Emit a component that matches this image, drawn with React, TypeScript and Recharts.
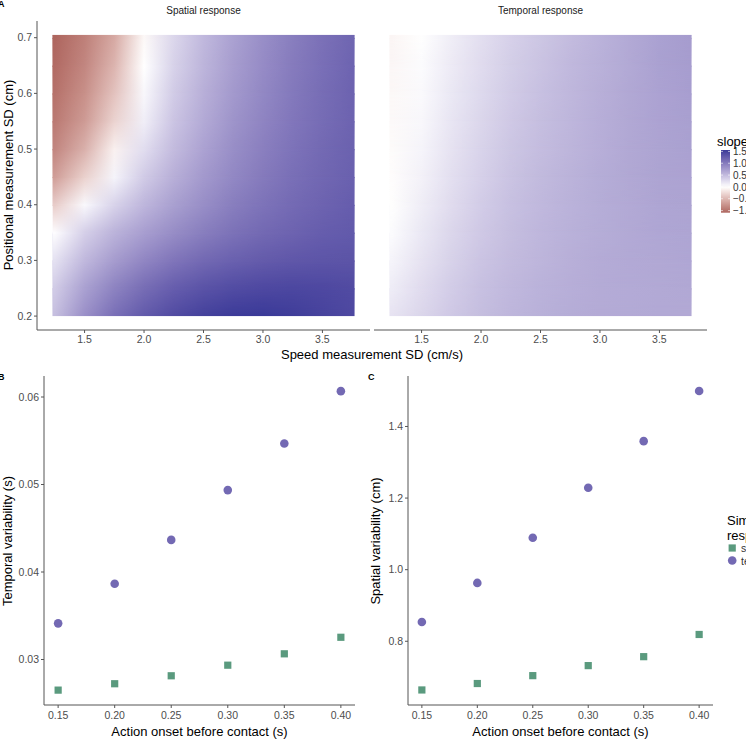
import React from 'react';
import { ComposedChart, ScatterChart, Scatter, XAxis, YAxis, ReferenceArea } from 'recharts';

// ---------- Panel A data (slope heatmaps) ----------
const SPEED_SD = [1.25, 1.5, 1.75, 2.0, 2.25, 2.5, 2.75, 3.0, 3.25, 3.5, 3.75];
const POS_SD = [0.2, 0.25, 0.3, 0.35, 0.4, 0.45, 0.5, 0.55, 0.6, 0.65, 0.7];
const SPEED_EXTENT = [1.23, 3.77];
const POS_EXTENT = [0.2, 0.705];
const SPEED_TICKS = [1.5, 2.0, 2.5, 3.0, 3.5];
const POS_TICKS = [0.2, 0.3, 0.4, 0.5, 0.6, 0.7];

// rows follow POS_SD (bottom to top), columns follow SPEED_SD
const SPATIAL_SLOPE = [
  [0.48, 0.84, 1.1, 1.28, 1.41, 1.5, 1.55, 1.56, 1.53, 1.48, 1.43],
  [0.38, 0.7, 0.94, 1.12, 1.25, 1.34, 1.4, 1.43, 1.44, 1.43, 1.41],
  [0.22, 0.52, 0.74, 0.91, 1.05, 1.15, 1.22, 1.27, 1.3, 1.32, 1.33],
  [0.02, 0.35, 0.56, 0.72, 0.86, 0.98, 1.08, 1.15, 1.2, 1.25, 1.28],
  [-0.35, 0.05, 0.32, 0.54, 0.71, 0.85, 0.98, 1.07, 1.14, 1.2, 1.25],
  [-0.68, -0.32, 0.08, 0.38, 0.59, 0.76, 0.9, 1.01, 1.1, 1.17, 1.22],
  [-0.85, -0.55, -0.1, 0.25, 0.5, 0.69, 0.85, 0.97, 1.07, 1.15, 1.21],
  [-0.94, -0.7, -0.3, 0.12, 0.43, 0.63, 0.8, 0.93, 1.04, 1.13, 1.2],
  [-1.0, -0.78, -0.42, 0.06, 0.38, 0.59, 0.76, 0.9, 1.02, 1.12, 1.2],
  [-1.05, -0.85, -0.52, 0.0, 0.33, 0.55, 0.73, 0.87, 1.0, 1.1, 1.19],
  [-1.09, -0.9, -0.6, -0.05, 0.3, 0.52, 0.7, 0.85, 0.98, 1.09, 1.18],
];

const TEMPORAL_SLOPE = [
  [0.2, 0.3, 0.4, 0.48, 0.54, 0.58, 0.61, 0.62, 0.63, 0.64, 0.64],
  [0.14, 0.26, 0.37, 0.46, 0.52, 0.57, 0.6, 0.62, 0.63, 0.64, 0.65],
  [0.08, 0.21, 0.33, 0.43, 0.5, 0.55, 0.59, 0.62, 0.64, 0.65, 0.66],
  [0.03, 0.17, 0.3, 0.4, 0.48, 0.54, 0.58, 0.61, 0.64, 0.66, 0.67],
  [-0.01, 0.13, 0.26, 0.37, 0.46, 0.52, 0.57, 0.61, 0.64, 0.67, 0.68],
  [-0.02, 0.1, 0.23, 0.34, 0.44, 0.51, 0.56, 0.61, 0.65, 0.68, 0.69],
  [-0.03, 0.08, 0.21, 0.32, 0.42, 0.49, 0.55, 0.6, 0.65, 0.68, 0.7],
  [-0.04, 0.06, 0.19, 0.3, 0.4, 0.48, 0.54, 0.6, 0.65, 0.69, 0.71],
  [-0.05, 0.04, 0.17, 0.28, 0.38, 0.46, 0.53, 0.59, 0.65, 0.69, 0.72],
  [-0.06, 0.03, 0.15, 0.26, 0.36, 0.44, 0.52, 0.58, 0.64, 0.7, 0.73],
  [-0.07, 0.01, 0.13, 0.24, 0.34, 0.42, 0.5, 0.57, 0.64, 0.7, 0.74],
];

const SLOPE_RANGE = [-1.09, 1.56];
const SLOPE_LEGEND_TICKS = [1.5, 1.0, 0.5, 0.0, -0.5, -1.0];
const SLOPE_LEGEND_LABELS = ['1.5', '1.0', '0.5', '0.0', '\u22120.5', '\u22121.0'];

// ---------- Panels B and C data ----------
const ONSET = [0.15, 0.2, 0.25, 0.3, 0.35, 0.4];
const TEMPORAL_VAR_SPATIAL = [0.0265, 0.02723, 0.02814, 0.02935, 0.03065, 0.03254];
const TEMPORAL_VAR_TEMPORAL = [0.03413, 0.03866, 0.04367, 0.04936, 0.05468, 0.06067];
const SPATIAL_VAR_SPATIAL = [0.664, 0.682, 0.704, 0.732, 0.757, 0.819];
const SPATIAL_VAR_TEMPORAL = [0.854, 0.963, 1.089, 1.229, 1.359, 1.499];
const TEMPORAL_VAR_TICKS = [0.03, 0.04, 0.05, 0.06];
const SPATIAL_VAR_TICKS = [0.8, 1.0, 1.2, 1.4];

// ---------- styling ----------
const FONT = '"Liberation Sans", Arial, Helvetica, sans-serif';
const AXIS = '#555555';
const TICK_TEXT = '#4d4d4d';
const GREEN = '#5a9a7e';
const PURPLE = '#7369b3';
const LOW = '#832424';
const HIGH = '#3A3A98';

// Lab colour interpolation (like ggplot's gradient2)
const srgbToLin = (c: number) => {
  const v = c / 255;
  return v <= 0.04045 ? v / 12.92 : Math.pow((v + 0.055) / 1.055, 2.4);
};
const linToSrgb = (c: number) => {
  const v = c <= 0.0031308 ? 12.92 * c : 1.055 * Math.pow(Math.max(c, 0), 1 / 2.4) - 0.055;
  return Math.round(Math.max(0, Math.min(1, v)) * 255);
};
const hexToLab = (h: string) => {
  const r = srgbToLin(parseInt(h.slice(1, 3), 16));
  const g = srgbToLin(parseInt(h.slice(3, 5), 16));
  const b = srgbToLin(parseInt(h.slice(5, 7), 16));
  const X = (0.4124 * r + 0.3576 * g + 0.1805 * b) / 0.95047;
  const Y = 0.2126 * r + 0.7152 * g + 0.0722 * b;
  const Z = (0.0193 * r + 0.1192 * g + 0.9505 * b) / 1.08883;
  const f = (t: number) => (t > 0.008856 ? Math.cbrt(t) : 7.787 * t + 16 / 116);
  const fx = f(X), fy = f(Y), fz = f(Z);
  return [116 * fy - 16, 500 * (fx - fy), 200 * (fy - fz)];
};
const labToHex = (lab: number[]) => {
  const [L, a, b] = lab;
  const fy = (L + 16) / 116, fx = fy + a / 500, fz = fy - b / 200;
  const finv = (t: number) => (t * t * t > 0.008856 ? t * t * t : (t - 16 / 116) / 7.787);
  const X = finv(fx) * 0.95047, Y = finv(fy), Z = finv(fz) * 1.08883;
  const R = 3.2406 * X - 1.5372 * Y - 0.4986 * Z;
  const G = -0.9689 * X + 1.8758 * Y + 0.0415 * Z;
  const B = 0.0557 * X - 0.204 * Y + 1.057 * Z;
  return '#' + [R, G, B].map((c) => linToSrgb(c).toString(16).padStart(2, '0')).join('');
};
const WHITE_LAB = hexToLab('#ffffff');
const LOW_LAB = hexToLab(LOW);
const HIGH_LAB = hexToLab(HIGH);
const SLOPE_MAXABS = Math.max(Math.abs(SLOPE_RANGE[0]), Math.abs(SLOPE_RANGE[1]));
const slopeColor = (v: number) => {
  const t = Math.max(-1, Math.min(1, v / SLOPE_MAXABS));
  const target = t >= 0 ? HIGH_LAB : LOW_LAB;
  const k = Math.abs(t);
  return labToHex(WHITE_LAB.map((w, i) => w + (target[i] - w) * k));
};

// Row stops along the speed axis (relative to the raster's x extent)
const rowStops = (row: number[]) =>
  row.map((v, j) => (
    <stop
      key={j}
      offset={(SPEED_SD[j] - SPEED_EXTENT[0]) / (SPEED_EXTENT[1] - SPEED_EXTENT[0])}
      stopColor={slopeColor(v)}
    />
  ));

// Horizontal bands between consecutive rows; each band blends its lower and upper row
const bandsFor = () => {
  const bands: { y1: number; y2: number; lo: number; hi: number }[] = [];
  for (let i = 0; i < POS_SD.length; i++) {
    const last = i === POS_SD.length - 1;
    const upper = last ? POS_EXTENT[1] : POS_SD[i + 1];
    if (upper > POS_SD[i]) bands.push({ y1: POS_SD[i], y2: upper, lo: i, hi: last ? i : i + 1 });
  }
  return bands;
};
const BANDS = bandsFor();

const makeBandShape = (grid: number[][], band: { lo: number; hi: number }, id: string, first: boolean) => (p: any) => {
  const { x, y, width, height } = p;
  const overlap = first ? 0 : 1.2;
  return (
    <g>
      <defs>
        <linearGradient id={`${id}-lo`} x1="0" y1="0" x2="1" y2="0">
          {rowStops(grid[band.lo])}
        </linearGradient>
        <linearGradient id={`${id}-hi`} x1="0" y1="0" x2="1" y2="0">
          {rowStops(grid[band.hi])}
        </linearGradient>
        <linearGradient id={`${id}-fade`} x1="0" y1="0" x2="0" y2="1">
          <stop offset="0" stopColor="#fff" stopOpacity={1} />
          <stop offset="1" stopColor="#fff" stopOpacity={0} />
        </linearGradient>
        <mask id={`${id}-mask`} maskContentUnits="objectBoundingBox" style={{ maskType: 'alpha' } as any}>
          <rect x={0} y={0} width={1} height={1} fill={`url(#${id}-fade)`} />
        </mask>
      </defs>
      <rect x={x} y={y} width={width} height={height + overlap} fill={`url(#${id}-lo)`} />
      <rect x={x} y={y} width={width} height={height} fill={`url(#${id}-hi)`} mask={`url(#${id}-mask)`} />
    </g>
  );
};

const tickStyle = { fill: TICK_TEXT, fontSize: 10.5, fontFamily: FONT };

const Heatmap = ({
  grid,
  showY,
  width,
  marginRight,
  prefix,
}: {
  grid: number[][];
  showY: boolean;
  width: number;
  marginRight: number;
  prefix: string;
}) => (
  <ComposedChart width={width} height={352} margin={{ top: 21, right: marginRight, left: 0, bottom: 0 }}>
    <XAxis
      type="number"
      dataKey="x"
      domain={[1.1, 3.9]}
      allowDataOverflow
      ticks={SPEED_TICKS}
      tickFormatter={(v: number) => v.toFixed(1)}
      height={22}
      tickSize={3}
      tickMargin={3}
      axisLine={{ stroke: AXIS, strokeWidth: 1 }}
      tickLine={{ stroke: AXIS }}
      tick={tickStyle}
    />
    <YAxis
      type="number"
      dataKey="y"
      domain={[0.175, 0.73]}
      allowDataOverflow
      ticks={POS_TICKS}
      tickFormatter={(v: number) => v.toFixed(1)}
      width={37}
      hide={!showY}
      tickSize={3}
      tickMargin={2}
      axisLine={{ stroke: AXIS, strokeWidth: 1 }}
      tickLine={{ stroke: AXIS }}
      tick={tickStyle}
    />
    {BANDS.map((b, k) => (
      <ReferenceArea
        key={k}
        x1={SPEED_EXTENT[0]}
        x2={SPEED_EXTENT[1]}
        y1={b.y1}
        y2={b.y2}
        fillOpacity={1}
        ifOverflow="visible"
        shape={makeBandShape(grid, b, `${prefix}-band${k}`, k === 0)}
      />
    ))}
  </ComposedChart>
);

const Circle = (p: any) => <circle cx={p.cx} cy={p.cy} r={4.3} fill={PURPLE} />;
const Square = (p: any) => <rect x={p.cx - 3.6} y={p.cy - 3.6} width={7.2} height={7.2} fill={GREEN} />;

const VarChart = ({
  spatial,
  temporal,
  domain,
  ticks,
  digits,
  yWidth,
  marginRight,
}: {
  spatial: number[];
  temporal: number[];
  domain: number[];
  ticks: number[];
  digits: number;
  yWidth: number;
  marginRight: number;
}) => {
  const sData = ONSET.map((o, i) => ({ onset: o, value: spatial[i] }));
  const tData = ONSET.map((o, i) => ({ onset: o, value: temporal[i] }));
  return (
    <ScatterChart width={360} height={383} margin={{ top: 16, right: marginRight, left: 0, bottom: 0 }}>
      <XAxis
        type="number"
        dataKey="onset"
        domain={[0.1375, 0.4125]}
        allowDataOverflow
        ticks={ONSET}
        tickFormatter={(v: number) => v.toFixed(2)}
        height={38}
        tickSize={3}
        tickMargin={4}
        axisLine={{ stroke: AXIS, strokeWidth: 1 }}
        tickLine={{ stroke: AXIS }}
        tick={tickStyle}
      />
      <YAxis
        type="number"
        dataKey="value"
        domain={domain}
        allowDataOverflow
        ticks={ticks}
        tickFormatter={(v: number) => v.toFixed(digits)}
        width={yWidth}
        tickSize={3}
        tickMargin={2}
        axisLine={{ stroke: AXIS, strokeWidth: 1 }}
        tickLine={{ stroke: AXIS }}
        tick={tickStyle}
      />
      <Scatter data={tData} shape={Circle} isAnimationActive={false} />
      <Scatter data={sData} shape={Square} isAnimationActive={false} />
    </ScatterChart>
  );
};

const Txt = ({
  x,
  y,
  children,
  size = 13,
  rotate = 0,
  bold = false,
  color = '#000',
  anchor = 'middle',
}: {
  x: number;
  y: number;
  children: React.ReactNode;
  size?: number;
  rotate?: number;
  bold?: boolean;
  color?: string;
  anchor?: 'middle' | 'start';
}) => (
  <div
    style={{
      position: 'absolute',
      left: x,
      top: y,
      transform: `translate(${anchor === 'start' ? '0' : '-50%'}, -50%) rotate(${rotate}deg)`,
      whiteSpace: 'nowrap',
      fontSize: size,
      lineHeight: 1,
      fontWeight: bold ? 700 : 400,
      color,
      fontFamily: FONT,
    }}
  >
    {children}
  </div>
);

// colour bar geometry (legend)
const BAR_TOP = 150;
const BAR_BOTTOM = 212.7;
const barY = (v: number) => BAR_TOP + ((SLOPE_RANGE[1] - v) / (SLOPE_RANGE[1] - SLOPE_RANGE[0])) * (BAR_BOTTOM - BAR_TOP);

export default function App() {
  const stops = Array.from({ length: 21 }, (_, i) => {
    const v = SLOPE_RANGE[1] - (i / 20) * (SLOPE_RANGE[1] - SLOPE_RANGE[0]);
    return { off: i / 20, col: slopeColor(v) };
  });
  return (
    <div
      style={{
        position: 'absolute',
        left: 0,
        top: 0,
        width: 746,
        height: 743,
        overflow: 'hidden',
        background: '#ffffff',
        fontFamily: FONT,
      }}
    >
      <div style={{ position: 'absolute', left: 0, top: 0 }}>
        <Heatmap grid={SPATIAL_SLOPE} showY width={372} marginRight={2} prefix="spatial" />
      </div>
      <div style={{ position: 'absolute', left: 374, top: 0 }}>
        <Heatmap grid={TEMPORAL_SLOPE} showY={false} width={336} marginRight={3} prefix="temporal" />
      </div>
      <div style={{ position: 'absolute', left: 0, top: 360 }}>
        <VarChart
          spatial={TEMPORAL_VAR_SPATIAL}
          temporal={TEMPORAL_VAR_TEMPORAL}
          domain={[0.0248, 0.0624]}
          ticks={TEMPORAL_VAR_TICKS}
          digits={2}
          yWidth={44}
          marginRight={5}
        />
      </div>
      <div style={{ position: 'absolute', left: 360, top: 360 }}>
        <VarChart
          spatial={SPATIAL_VAR_SPATIAL}
          temporal={SPATIAL_VAR_TEMPORAL}
          domain={[0.622, 1.541]}
          ticks={SPATIAL_VAR_TICKS}
          digits={1}
          yWidth={48}
          marginRight={7}
        />
      </div>

      {/* slope colour bar legend */}
      <svg style={{ position: 'absolute', left: 0, top: 0 }} width={746} height={300}>
        <defs>
          <linearGradient id="slopeGrad" x1="0" y1="0" x2="0" y2="1">
            {stops.map((s, i) => (
              <stop key={i} offset={s.off} stopColor={s.col} />
            ))}
          </linearGradient>
        </defs>
        <rect x={721} y={BAR_TOP} width={9} height={BAR_BOTTOM - BAR_TOP} fill="url(#slopeGrad)" />
        {SLOPE_LEGEND_TICKS.map((v, i) => (
          <g key={i}>
            <line x1={721} x2={723} y1={barY(v)} y2={barY(v)} stroke="#fff" strokeWidth={0.6} />
            <line x1={728} x2={730} y1={barY(v)} y2={barY(v)} stroke="#fff" strokeWidth={0.6} />
            <text x={733} y={barY(v) + 3.6} fontSize={10} fill="#333" fontFamily={FONT}>
              {SLOPE_LEGEND_LABELS[i]}
            </text>
          </g>
        ))}
      </svg>
      <Txt x={717} y={141} anchor="start">slope</Txt>

      {/* panel labels and titles */}
      <Txt x={-2} y={4} size={9} bold anchor="start">A</Txt>
      <Txt x={203.5} y={11} size={10} color="#1a1a1a">Spatial response</Txt>
      <Txt x={540.5} y={11} size={10} color="#1a1a1a">Temporal response</Txt>
      <Txt x={8} y={175} rotate={-90}>Positional measurement SD (cm)</Txt>
      <Txt x={372} y={354}>Speed measurement SD (cm/s)</Txt>

      <Txt x={-2} y={377} size={9} bold anchor="start">B</Txt>
      <Txt x={368} y={377} size={9} bold anchor="start">C</Txt>
      <Txt x={7} y={540.5} rotate={-90}>Temporal variability (s)</Txt>
      <Txt x={375} y={540.5} rotate={-90}>Spatial variability (cm)</Txt>
      <Txt x={199.5} y={731}>Action onset before contact (s)</Txt>
      <Txt x={560.5} y={731}>Action onset before contact (s)</Txt>

      {/* simulated response legend */}
      <Txt x={727} y={520} anchor="start">Simulated</Txt>
      <Txt x={727} y={534.5} anchor="start">response</Txt>
      <svg style={{ position: 'absolute', left: 720, top: 540 }} width={26} height={30}>
        <rect x={8.6} y={4.4} width={7.2} height={7.2} fill={GREEN} />
        <circle cx={12.2} cy={20.5} r={4.3} fill={PURPLE} />
      </svg>
      <Txt x={741} y={548} size={10.5} color="#333" anchor="start">spatial</Txt>
      <Txt x={741} y={561} size={10.5} color="#333" anchor="start">temporal</Txt>
    </div>
  );
}
